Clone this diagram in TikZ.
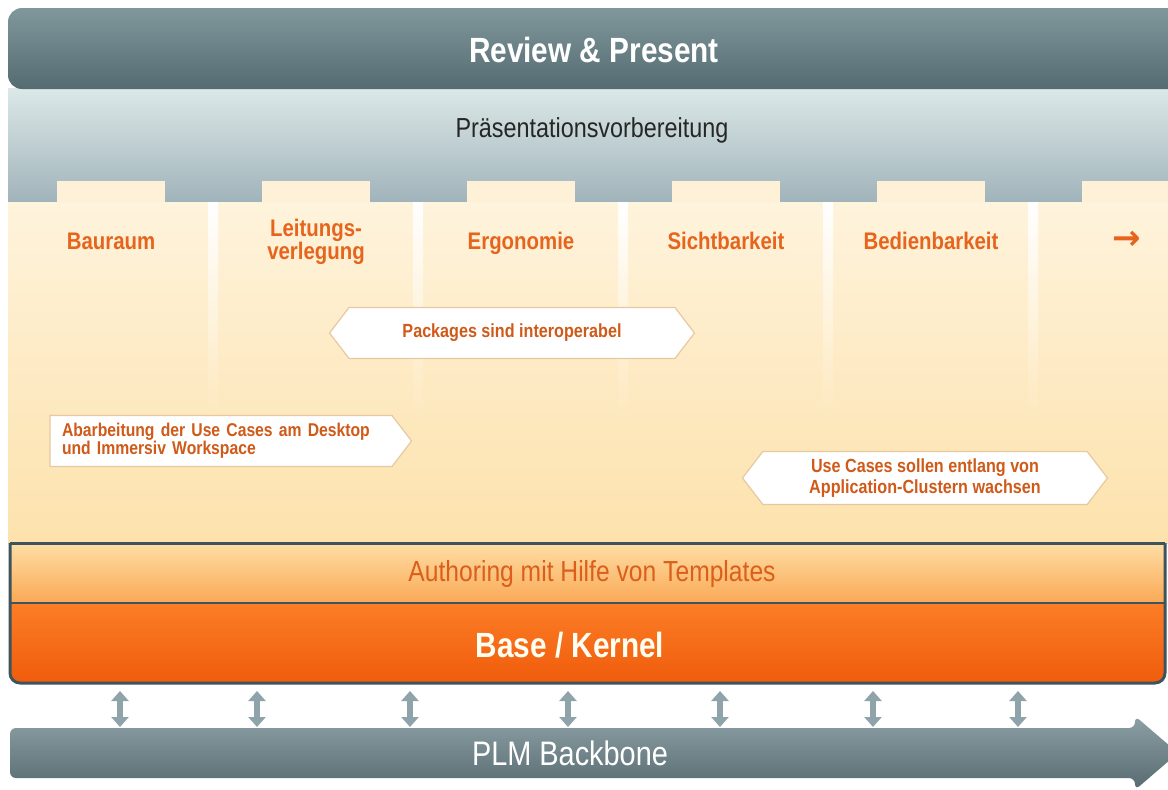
\documentclass[tikz,border=0pt]{standalone}
\usepackage{fontspec}
\setmainfont{Liberation Sans}[FakeStretch=0.85]
\newfontfamily\symfont{DejaVu Sans}
\usetikzlibrary{shapes.symbols,arrows.meta}
\definecolor{bartop}{RGB}{128,152,156}
\definecolor{barbot}{RGB}{84,108,113}
\definecolor{bandtop}{RGB}{220,232,232}
\definecolor{bandbot}{RGB}{160,179,186}
\definecolor{creamtop}{RGB}{254,243,220}
\definecolor{creambot}{RGB}{253,226,172}
\definecolor{tabcream}{RGB}{254,241,215}
\definecolor{myorange}{RGB}{230,100,28}
\definecolor{calloutrim}{RGB}{232,200,160}
\definecolor{authtop}{RGB}{254,222,165}
\definecolor{authbot}{RGB}{250,168,85}
\definecolor{kerntop}{RGB}{255,135,45}
\definecolor{kernbot}{RGB}{240,92,12}
\definecolor{framegray}{RGB}{62,84,92}
\definecolor{linkgray}{RGB}{143,163,171}
\definecolor{plmtop}{RGB}{140,160,166}
\definecolor{plmbot}{RGB}{86,106,112}
\newcommand*{\mylabelstyle}{\bfseries\fontsize{24}{23}\selectfont\color{myorange}}
\newcommand{\colstage}[4]{%
   % tab centre, baseline, node name, label
   \pgfmathsetmacro{\xc}{#1}
   \fill[tabcream] (\xc-54,181) rectangle (\xc+54,203);
   \node (#3) at (\xc,#2) [
      font   = \mylabelstyle,
      anchor = base,
      align  = center
   ]{#4};
}
\newcommand{\colsep}[1]{%
   % separator position
   \shade[top color=white, bottom color=creambot!64!creamtop]
      (#1-5,202) rectangle (#1+5,420);
}
\newcommand{\linkarrow}[1]{%
   % arrow position
   \coordinate (up#1) at (#1,691);
   \coordinate (dn#1) at (#1,727);
   \draw[linkgray, line width=6pt,
      {Triangle[width=17pt,length=10pt]}-{Triangle[width=17pt,length=10pt]}]
      (up#1) -- (dn#1);
}

\begin{document}
\begin{tikzpicture}[x=1pt, y=-1pt,
   callout/.style = {
      shape = signal, draw = calloutrim, fill = white, line width = 1.2pt,
      signal pointer angle = 105, text = myorange!90!black,
      font = \bfseries\fontsize{19}{19}\selectfont,
      minimum height = 51pt
   }]
   \useasboundingbox (0,0) rectangle (1168,790);
   \fill[white] (0,0) rectangle (1168,790);
   \clip (0,0) rectangle (1168,790);

   % review bar and band
   \shade[top color=bandtop, bottom color=bandbot] (8,88) rectangle (1200,203);
   \shade[top color=bartop, bottom color=barbot, rounded corners=14]
      (8,8) rectangle (1200,89);
   \node (review) at (594,50) [
      font  = \bfseries\fontsize{35}{35}\selectfont,
      color = white
   ]{Review \& Present};
   \node (prep) at (592,130) [
      font  = \fontsize{27.5}{27.5}\selectfont,
      color = black!85
   ]{Präsentationsvorbereitung};

   % use case columns
   \shade[top color=creamtop, bottom color=creambot] (8,202) rectangle (1200,543);
   \colsep{213}
   \colsep{418}
   \colsep{623}
   \colsep{828}
   \colsep{1033}
   \colstage{111}{249}{bauraum}{Bauraum}
   \colstage{316}{259}{leitung}{Leitungs-\\verlegung}
   \colstage{521}{249}{ergo}{Ergonomie}
   \colstage{726}{249}{sicht}{Sichtbarkeit}
   \colstage{931}{249}{bedien}{Bedienbarkeit}
   \colstage{1136}{249}{more}{}
   \node (morearrow) at (1127,240) [
      font = \symfont\bfseries\fontsize{34}{34}\selectfont,
      color = myorange
   ]{→};

   \node (pkgs) at (512,333) [callout, signal to=east and west,
      minimum width=365pt]{Packages sind interoperabel};
   \node (desk) at (221,441) [callout, signal to=east, align=left,
      text width=318pt, inner xsep=12pt,
      font=\bfseries\fontsize{18.5}{17}\selectfont]{Abarbeitung der Use Cases am Desktop\\und Immersiv Workspace};
   \node (grow) at (925,478) [callout, signal to=east and west, align=center,
      minimum width=365pt, minimum height=53pt,
      font=\bfseries\fontsize{19}{21}\selectfont]{Use Cases sollen entlang von\\Application-Clustern wachsen};

   % authoring and kernel
   \shade[top color=kerntop, bottom color=kernbot, rounded corners=10]
      (10,580) rectangle (1165,683);
   \shade[top color=authtop, bottom color=authbot] (10,543) rectangle (1165,603);
   \draw[framegray, line width=3pt, rounded corners=10]
      (10,543) -- (10,683) -- (1165,683) -- (1165,543);
   \draw[framegray, line width=3pt] (10,543) -- (1165,543);
   \draw[framegray, line width=2.5pt] (10,603) -- (1165,603);
   \node (authoring) at (592,574) [
      font  = \fontsize{29}{29}\selectfont,
      color = myorange!95!black
   ]{Authoring mit Hilfe von Templates};
   \node (kernel) at (570,645) [
      font  = \bfseries\fontsize{35}{35}\selectfont,
      color = white!95!yellow
   ]{Base / Kernel};

   % backbone
   \linkarrow{120}
   \linkarrow{257}
   \linkarrow{410}
   \linkarrow{568}
   \linkarrow{720}
   \linkarrow{873}
   \linkarrow{1018}
   \shade[top color=plmtop, bottom color=plmbot, rounded corners=6]
      (10,728) -- (1135,728) -- (1135,716) -- (1178,753)
      -- (1135,790) -- (1135,778) -- (10,778) -- cycle;
   \node (plm) at (570,753) [
      font  = \fontsize{34}{34}\selectfont,
      color = white
   ]{PLM Backbone};
\end{tikzpicture}
\end{document}
